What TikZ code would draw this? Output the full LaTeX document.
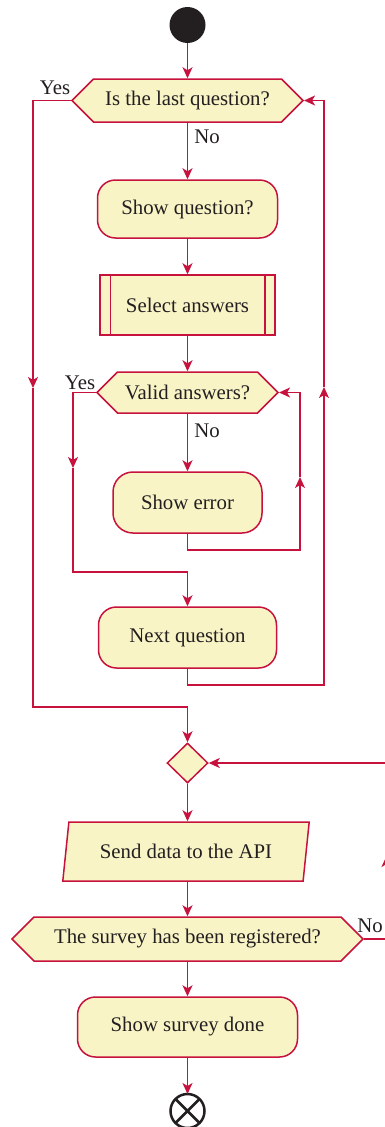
\documentclass[tikz,border=0pt]{standalone}
\usepackage{fontspec}
\setmainfont{Liberation Serif}
\usetikzlibrary{shapes.geometric,shapes.symbols,arrows.meta}
\definecolor{flowred}{RGB}{200,18,62}
\definecolor{boxfill}{RGB}{248,244,198}
\definecolor{inkgray}{RGB}{35,31,32}

\begin{document}
\begin{tikzpicture}[x=1pt,y=-1pt,
    every node/.style={text=inkgray,font=\fontsize{20.8}{24}\selectfont},
    line/.style={draw=flowred,line width=1.5pt},
    flow/.style={line,-{Stealth[length=11pt,width=10pt,inset=3pt]}},
    decision/.style={signal,signal to=west and east,signal pointer angle=90,
        draw=flowred,fill=boxfill,line width=1.5pt,inner sep=0pt},
    activity/.style={rectangle,rounded corners=18pt,draw=flowred,fill=boxfill,
        line width=1.5pt,inner sep=0pt}]
        \useasboundingbox[fill=white] (0,0) rectangle (384,1127);

        % 开始
        \node[circle,fill=inkgray,minimum size=36pt,inner sep=0pt] (start) at (187.5,25) {};

        % 问题循环
        \node[decision,minimum width=231pt,minimum height=43pt] (last) at (187.5,100.5) {Is the last question?};
        \node (lastyes) at (55,88) {Yes};
        \node (lastno) at (207,137) {No};
        \node[activity,minimum width=180pt,minimum height=58pt] (showq) at (187.5,209) {Show question?};
        \node[rectangle,draw=flowred,fill=boxfill,line width=1.5pt,inner sep=0pt,
            minimum width=175pt,minimum height=60pt] (select) at (187.5,305) {Select answers};
        \draw[line] ([xshift=11pt]select.north west) -- ([xshift=11pt]select.south west);
        \draw[line] ([xshift=-11pt]select.north east) -- ([xshift=-11pt]select.south east);
        \node[decision,minimum width=181pt,minimum height=41pt] (valid) at (187.5,392.5) {Valid answers?};
        \node (validyes) at (80,383) {Yes};
        \node (validno) at (207,431) {No};
        \node[activity,rounded corners=20pt,minimum width=149pt,minimum height=61pt] (error) at (187.5,502.5) {Show error};
        \node[activity,minimum width=178pt,minimum height=61pt] (next) at (187.5,637.5) {Next question};

        % 提交
        \node[diamond,draw=flowred,fill=boxfill,line width=1.5pt,inner sep=0pt,aspect=1,
            minimum width=41pt,minimum height=40pt] (merge) at (187.5,763) {};
        \node[trapezium,trapezium left angle=73,trapezium right angle=107,trapezium stretches=true,
            draw=flowred,fill=boxfill,line width=1.5pt,inner sep=0pt,
            minimum width=247pt,minimum height=59pt] (send) at (186,851.5) {Send data to the API};
        \node[decision,minimum width=351pt,minimum height=44pt] (reg) at (187.5,939) {The survey has been registered?};
        \node (regno) at (370,926) {No};
        \node[activity,minimum width=220pt,minimum height=60pt] (done) at (187.5,1027) {Show survey done};

        % 结束
        \node[circle,draw=inkgray,line width=2.5pt,outer sep=0pt,minimum size=34pt,inner sep=0pt] (stop) at (187.5,1111) {};
        \draw[inkgray,line width=2.5pt] (stop.north west) -- (stop.south east)
            (stop.north east) -- (stop.south west);

        % 连线
        \draw[flow] (start) -- (last.north);
        \draw[flow] (last.south) -- (showq.north);
        \draw[flow] (showq.south) -- (select.north);
        \draw[flow] (select.south) -- (valid.north);
        \draw[flow] (valid.south) -- (error.north);

        \coordinate (errcorner) at (300,550);
        \coordinate (errup) at (300,477);
        \draw[flow] (error.south) |- (errcorner) -- (errup);
        \draw[flow] (errup) |- (valid.east);

        \coordinate (validdown) at (73,468);
        \coordinate (validjoin) at (187.5,572);
        \draw[flow] (valid.west) -| (validdown);
        \draw[flow] (validdown) |- (validjoin) -- (next.north);

        \coordinate (nextcorner) at (324,685);
        \coordinate (nextup) at (324,387);
        \draw[flow] (next.south) |- (nextcorner) -- (nextup);
        \draw[flow] (nextup) |- (last.east);

        \coordinate (lastdown) at (33,388);
        \coordinate (lastjoin) at (187.5,707);
        \draw[flow] (last.west) -| (lastdown);
        \draw[flow] (lastdown) |- (lastjoin) -- (merge.north);

        \draw[flow] (merge.south) -- (merge.south |- send.north);
        \draw[flow] (merge.south |- send.south) -- (reg.north);
        \draw[flow] (reg.south) -- (done.north);
        \draw[flow] (done.south) -- (stop.north);

        \coordinate (regup) at (386.5,856);
        \draw[flow] (reg.east) -| (regup);
        \draw[flow] (regup) |- (merge.east);
      \end{tikzpicture}
\end{document}
